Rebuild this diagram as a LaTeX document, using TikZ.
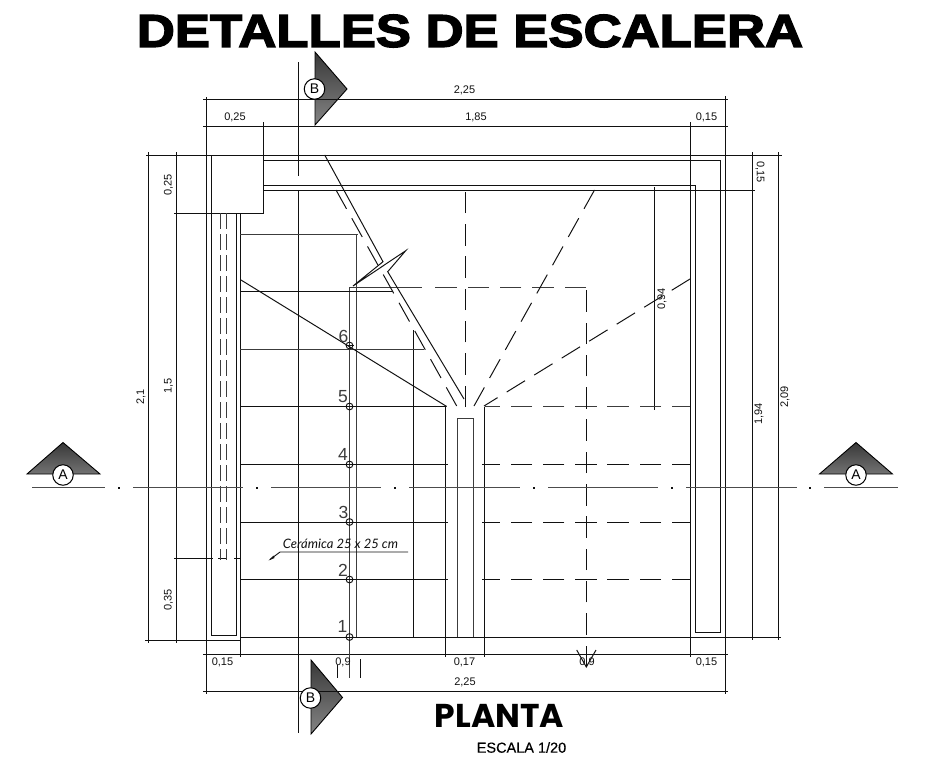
\documentclass[tikz,border=0pt]{standalone}
\usepackage{fontspec}
\setmainfont{Liberation Sans}
\newfontfamily\ttlfont{Liberation Sans}[BoldFeatures={FakeBold=3.2,FakeStretch=1.145}]
\newfontfamily\plfont{Poppins}
\newfontfamily\cerfont{Lato}
\newfontfamily\escfont{Liberation Sans}[FakeBold=0.35]
\definecolor{ink}{HTML}{111111}
\definecolor{inkgray}{HTML}{3C3C3C}
\definecolor{axisgray}{HTML}{4C4C4C}
\begin{document}
\begin{tikzpicture}[x=1pt,y=-1pt,
  wall/.style={draw=ink,line width=0.98pt},
  soft/.style={draw=inkgray,line width=0.98pt},
  dimline/.style={draw=ink,line width=0.95pt},
  cad/.style={draw=ink,line width=0.98pt,dash pattern=on 21.5pt off 10.8pt},
  cadsoft/.style={draw=inkgray,line width=0.98pt,dash pattern=on 21.5pt off 10.8pt},
  hidden/.style={draw=inkgray,line width=0.95pt,dash pattern=on 16pt off 5pt},
  axis/.style={draw=axisgray,line width=0.98pt},
  dimtext/.style={inner sep=0pt,font=\fontsize{11}{11}\selectfont,text=ink},
  bubble/.style={circle,draw=black,fill=white,line width=1pt,minimum size=20.5pt,inner sep=0pt,font=\fontsize{14}{14}\selectfont},
  stepnum/.style={inner sep=0pt,font=\fontsize{17.5}{17}\selectfont,text=inkgray},
  sectri/.style={draw=black,line width=0.9pt},
  stepdot/.style={draw=ink,line width=0.95pt}
]
\useasboundingbox (0,0) rectangle (926,763);
\fill[white] (0,0) rectangle (926,763);

% title
\node[inner sep=0pt,font=\ttlfont\bfseries\fontsize{46}{48}\selectfont,text=black] (title) at (470,31) {DETALLES DE ESCALERA};

% section markers
\draw[sectri,top color=black!78,bottom color=black!48] (315,52) -- (347,89) -- (315,125) -- cycle;
\draw[sectri,top color=black!78,bottom color=black!48] (311,660) -- (342.5,697.5) -- (311,734) -- cycle;
\draw[sectri,top color=black!78,bottom color=black!55] (63,442.5) -- (100,474) -- (27,474) -- cycle;
\draw[sectri,top color=black!78,bottom color=black!55] (856,442.5) -- (892.5,474) -- (819.5,474) -- cycle;

% dimension lines, horizontal
\draw[dimline] (203,99.5) -- (728,99.5);
\draw[dimline] (203,126) -- (728,126);
\draw[dimline] (203,654.5) -- (728,654.5);
\draw[dimline] (203,691) -- (728,691);
% extension lines, vertical
\draw[wall] (206,97) -- (206,694);
\draw[wall] (725,96) -- (725,694);
\draw[wall] (263.5,122) -- (263.5,213);
\draw[wall] (690,122) -- (690,657);
\draw[wall] (240,213) -- (240,657);
\draw[wall] (445.5,406.5) -- (445.5,657);
\draw[wall] (484.5,406.5) -- (484.5,657);

% dimension lines, vertical
\draw[dimline] (148.5,152) -- (148.5,643);
\draw[dimline] (176.5,152) -- (176.5,643);
\draw[dimline] (752,152) -- (752,640);
\draw[dimline] (778,152) -- (778,640);
\draw[dimline] (654.5,187) -- (654.5,410);
% horizontal extension lines
\draw[wall] (146,155) -- (782,155);
\draw[wall] (174,213) -- (263.5,213);
\draw[wall] (145,640) -- (240,640);
\draw[wall] (725,637) -- (781,637);
\draw[wall] (263.5,190) -- (755,190);
\draw[dimline] (174,558.5) -- (213,558.5);
\draw[dimline] (218,558.5) -- (226,558.5);
\draw[dimline] (234,558.5) -- (240,558.5);

% walls
\draw[wall] (211,155) -- (211,635) -- (236.5,635) -- (236.5,213);
\draw[wall] (263.5,160) -- (720,160) -- (720,632) -- (695,632) -- (695,185.5) -- (263.5,185.5);
\draw[wall] (240,637) -- (725,637);
\draw[hidden] (220,213) -- (220,560);
\draw[hidden] (226,213) -- (226,560);

% vertical lines
\draw[wall] (298.5,62) -- (298.5,175.5);
\draw[wall] (298.5,190) -- (298.5,733);
\draw[soft] (349.5,287) -- (349.5,678);
\draw[soft] (349.5,287) -- (356,287);
\draw[soft] (356,234) -- (356,637);
\draw[wall] (413.5,330) -- (413.5,637);
\draw[soft] (457.3,637) -- (457.3,418) -- (473.7,418) -- (473.7,637);
\draw[wall] (337.3,665) -- (337.3,678);
\draw[wall] (360.7,659) -- (360.7,678);

% treads
\draw[soft] (240,234) -- (358,234);
\draw[wall] (240,291.5) -- (393,291.5);
\draw[soft] (240,349) -- (424,349);
\draw[wall] (240,406.5) -- (445.5,406.5);
\draw[wall] (240,464.5) -- (447.5,464.5);
\draw[wall] (240,522) -- (447.5,522);
\draw[wall] (240,579.5) -- (447.5,579.5);
\draw[cadsoft,dash phase=3.5pt] (690,406.5) -- (484.5,406.5);
\draw[cad,dash phase=3.5pt] (690,464.5) -- (482,464.5);
\draw[cad,dash phase=3.5pt] (690,522) -- (482,522);
\draw[cad,dash phase=3.5pt] (690,579.5) -- (482,579.5);

% landing, dashed
\draw[soft] (356,287) -- (421.5,287);
\draw[cadsoft] (586,287) -- (432,287);
\draw[cad] (586.3,667) -- (586.3,287);
\draw[cad] (465.3,407) -- (465.3,190);
\draw[cad] (594.5,190) -- (474,406);
\draw[cad] (690,279) -- (484,406);
\draw[cad] (336,190) -- (456.7,406);
\draw[wall] (576.7,650) -- (586.3,667) -- (596,650);

% break line
\draw[wall] (324.7,155) -- (383,261.7) -- (353,286) -- (405.7,250.7) -- (387.7,271.7) -- (464,399);
\draw[wall] (241,280) -- (446.7,406.5);

% leader
\draw[wall,line width=0.9pt] (408,552) -- (280,552) -- (270,559.5);
\fill[ink] (268.5,560.5) -- (273.5,555.5) -- (274.5,558) -- cycle;

% axis A-A
\draw[axis] (32,487.7) -- (105,487.7);
\draw[axis] (133,487.7) -- (243,487.7);
\draw[axis] (271,487.7) -- (381,487.7);
\draw[axis] (409,487.7) -- (520,487.7);
\draw[axis] (548,487.7) -- (658,487.7);
\draw[axis] (686,487.7) -- (796.5,487.7);
\draw[axis] (824,487.7) -- (898,487.7);
\foreach \dx in {119,257,395,534,672,810}{\fill[ink] (\dx-0.8,486.9) rectangle (\dx+0.8,488.5);}

% stair axis marks
\foreach \sy in {345.5,406.5,464.5,522,579.5,637}{
  \draw[stepdot] (349.5,\sy) circle (3.4);
  \draw[stepdot] (345.5,\sy) -- (353.5,\sy);
}
\node[stepnum] (n1) at (342.5,626) {1};
\node[stepnum] (n2) at (343,570.5) {2};
\node[stepnum] (n3) at (343.5,512.5) {3};
\node[stepnum] (n4) at (343,454.5) {4};
\node[stepnum] (n5) at (343,397) {5};
\node[stepnum] (n6) at (343.5,336) {6};

% bubbles
\node[bubble] (bt) at (314.5,89) {B};
\node[bubble] (bb) at (310.5,698) {B};
\node[bubble] (al) at (63,475) {A};
\node[bubble] (ar) at (856,475) {A};

% dimension labels
\node[dimtext] (d1) at (464.5,90.5) {2,25};
\node[dimtext] (d2) at (235,117) {0,25};
\node[dimtext] (d3) at (476,117) {1,85};
\node[dimtext] (d4) at (706.5,117) {0,15};
\node[dimtext,rotate=-90] (d5) at (760,172) {0,15};
\node[dimtext,rotate=90] (d6) at (662,299) {0,94};
\node[dimtext,rotate=90] (d7) at (759,414) {1,94};
\node[dimtext,rotate=90] (d8) at (785,397) {2,09};
\node[dimtext,rotate=90] (d9) at (141,397) {2,1};
\node[dimtext,rotate=90] (d10) at (168.5,386) {1,5};
\node[dimtext,rotate=90] (d11) at (168.5,185) {0,25};
\node[dimtext,rotate=90] (d12) at (168.5,600) {0,35};
\node[dimtext] (d13) at (222.5,662.5) {0,15};
\node[dimtext] (d14) at (343,662.5) {0,9};
\node[dimtext] (d15) at (464.5,662.5) {0,17};
\node[dimtext] (d16) at (587,662.5) {0,9};
\node[dimtext] (d17) at (706.5,662.5) {0,15};
\node[dimtext] (d18) at (465,682.5) {2,25};

% labels
\node[inner sep=0pt,font=\cerfont\itshape\fontsize{13}{13}\selectfont,text=ink] (cer) at (340.5,544) {Cerámica 25 x 25 cm};
\node[inner sep=0pt,font=\plfont\bfseries\fontsize{33}{33}\selectfont,text=black] (planta) at (499.5,716) {PLANTA};
\node[inner sep=0pt,font=\escfont\fontsize{14.5}{15}\selectfont,text=black] (esc) at (521.5,747.5) {ESCALA 1/20};
\end{tikzpicture}
\end{document}
